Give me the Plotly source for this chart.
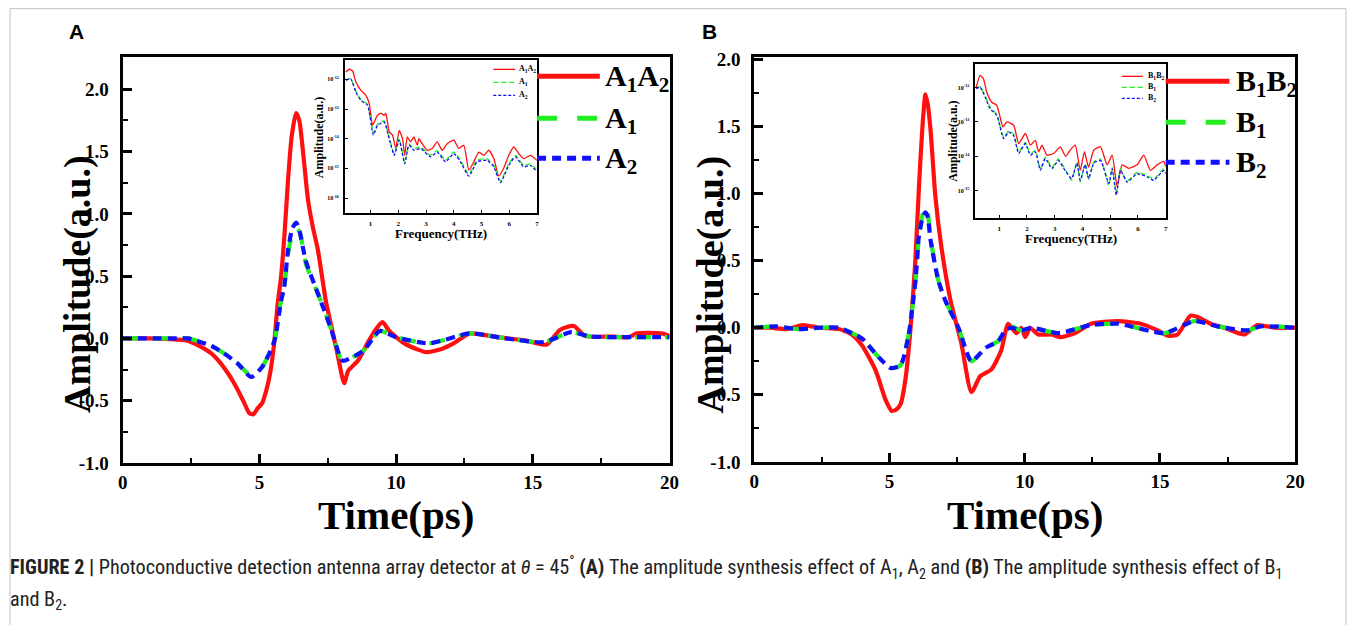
import plotly.graph_objects as go

# ---------------- data: panel A (time domain) ----------------
T_A_RED = [0, 1.0, 2.0, 2.4, 2.8, 3.24, 3.55, 3.85, 4.05, 4.27, 4.45, 4.63, 4.78, 4.94, 5.1, 5.25, 5.4, 5.54,
           5.67, 5.79, 5.92, 6.05, 6.18, 6.34, 6.46, 6.59, 6.78, 6.95, 7.14, 7.43, 7.6, 7.85, 8.1, 8.25, 8.6,
           9.0, 9.25, 9.5, 9.75, 10.3, 10.8, 11.1, 11.6, 12.1, 12.7, 13.7, 14.8, 15.5, 16.0, 16.5, 16.9, 17.9,
           18.5, 18.8, 19.7, 20.0]
V_A_RED = [0, 0, -0.01, -0.02, -0.06, -0.12, -0.19, -0.28, -0.35, -0.44, -0.52, -0.60, -0.61, -0.56, -0.52,
           -0.42, -0.27, -0.04, 0.28, 0.49, 0.84, 1.28, 1.62, 1.81, 1.75, 1.51, 1.11, 0.90, 0.71, 0.30, 0.13,
           -0.12, -0.36, -0.26, -0.18, -0.02, 0.07, 0.13, 0.06, -0.04, -0.09, -0.11, -0.09, -0.04, 0.04, 0.01,
           -0.02, -0.05, 0.07, 0.10, 0.02, 0.015, 0.01, 0.04, 0.04, 0.02]

T_A_GREEN = [0, 1.0, 2.0, 2.4, 3.24, 3.7, 4.2, 4.7, 5.1, 5.55, 5.79, 5.9, 6.05, 6.2, 6.36, 6.48, 6.7, 7.14,
             7.6, 7.95, 8.05, 8.8, 9.4, 10.0, 11.2, 12.7, 14.0, 15.4, 16.4, 17.1, 18.5, 20.0]
V_A_GREEN = [0, 0, 0, 0, -0.06, -0.12, -0.20, -0.30, -0.23, -0.02, 0.30, 0.40, 0.68, 0.84, 0.88, 0.85, 0.60,
             0.36, 0.09, -0.15, -0.18, -0.10, 0.06, 0.01, -0.04, 0.04, 0.0, -0.03, 0.05, 0.015, 0.01, 0.01]

T_A_BLUE = [0, 1.0, 2.0, 2.4, 3.24, 3.7, 4.2, 4.7, 5.1, 5.55, 5.79, 5.9, 6.05, 6.2, 6.34, 6.45, 6.7, 7.14,
            7.6, 7.95, 8.05, 8.8, 9.4, 10.0, 11.2, 12.7, 14.0, 15.4, 16.4, 17.1, 18.5, 20.0]
V_A_BLUE = [0, 0, 0, 0, -0.06, -0.12, -0.20, -0.31, -0.23, -0.02, 0.30, 0.40, 0.71, 0.88, 0.93, 0.88, 0.62,
            0.36, 0.09, -0.15, -0.18, -0.10, 0.06, 0.01, -0.04, 0.04, 0.0, -0.03, 0.05, 0.015, 0.01, 0.01]

# ---------------- data: panel B (time domain) ----------------
T_B_RED = [0, 0.6, 1.2, 1.8, 2.4, 3.13, 3.6, 3.98, 4.49, 4.86, 5.08, 5.25, 5.41, 5.6, 5.78, 5.95, 6.1, 6.22,
           6.33, 6.42, 6.52, 6.7, 6.92, 7.26, 7.66, 8.03, 8.36, 8.77, 9.13, 9.39, 9.69, 9.87, 10.02, 10.2,
           10.5, 10.98, 11.34, 11.86, 12.45, 13.44, 14.29, 14.92, 15.29, 15.65, 16.13, 16.39, 16.87, 17.38,
           18.12, 18.6, 19.23, 20.0]
V_B_RED = [0, 0.0, -0.01, 0.02, 0.0, -0.01, -0.05, -0.13, -0.32, -0.54, -0.62, -0.61, -0.57, -0.37, 0.0,
           0.48, 1.09, 1.50, 1.74, 1.66, 1.47, 0.97, 0.60, 0.20, -0.12, -0.48, -0.36, -0.31, -0.17, 0.03,
           -0.04, 0.0, -0.07, 0.0, -0.05, -0.05, -0.07, -0.04, 0.03, 0.05, 0.03, -0.02, -0.06, -0.05, 0.09,
           0.08, 0.03, 0.0, -0.05, 0.02, 0.0, 0.0]

T_B_GREEN = [0, 0.8, 1.6, 2.4, 3.13, 3.98, 4.6, 5.05, 5.41, 5.71, 5.97, 6.08, 6.22, 6.33, 6.42, 6.52, 6.81,
             7.07, 7.55, 8.03, 8.55, 9.02, 9.28, 9.5, 9.87, 10.24, 11.23, 12.45, 13.44, 15.17, 16.28, 17.13,
             18.23, 18.71, 20.0]
V_B_GREEN = [0, 0.01, -0.01, 0.0, 0.0, -0.08, -0.22, -0.30, -0.28, -0.05, 0.37, 0.66, 0.84, 0.90, 0.85, 0.66,
             0.35, 0.20, 0.0, -0.25, -0.15, -0.10, -0.02, 0.01, -0.02, 0.0, -0.04, 0.02, 0.03, -0.04, 0.05,
             0.01, -0.02, 0.01, 0.0]

T_B_BLUE = [0, 0.8, 1.6, 2.4, 3.13, 3.98, 4.6, 5.05, 5.41, 5.71, 5.97, 6.08, 6.22, 6.33, 6.42, 6.52, 6.81,
            7.07, 7.55, 8.03, 8.55, 9.02, 9.28, 9.5, 9.87, 10.24, 11.23, 12.45, 13.44, 15.17, 16.28, 17.13,
            18.23, 18.71, 20.0]
V_B_BLUE = [0, 0.01, -0.01, 0.0, 0.0, -0.08, -0.22, -0.30, -0.28, -0.05, 0.37, 0.67, 0.82, 0.86, 0.82, 0.65,
            0.35, 0.20, 0.0, -0.25, -0.15, -0.10, -0.02, 0.0, -0.02, 0.0, -0.04, 0.02, 0.03, -0.04, 0.05, 0.01,
            -0.02, 0.01, 0.0]

# ---------------- data: insets (frequency spectra, log10 amplitude) ----------------
F_A_RED = [0.11, 0.23, 0.35, 0.47, 0.65, 0.83, 0.95, 1.07, 1.13, 1.25, 1.37, 1.49, 1.55, 1.67, 1.79, 1.91, 2.03,
           2.15, 2.23, 2.32, 2.44, 2.56, 2.68, 2.74, 2.86, 3.04, 3.22, 3.40, 3.58, 3.76, 4.00, 4.18, 4.36, 4.54,
           4.72, 4.90, 5.08, 5.26, 5.44, 5.62, 5.80, 5.98, 6.16, 6.34, 6.52, 6.76, 7.0]
L_A_RED = [-11.75, -11.66, -11.72, -12.09, -12.37, -12.54, -12.82, -13.55, -13.44, -13.21, -13.15, -13.21,
           -13.15, -13.77, -13.88, -14.33, -13.72, -14.0, -14.56, -13.94, -14.11, -13.94, -14.22, -14.0, -14.17,
           -14.39, -14.33, -14.11, -14.39, -14.17, -14.05, -14.33, -14.22, -15.06, -14.78, -14.45, -14.56,
           -14.39, -14.67, -15.26, -14.99, -14.56, -14.28, -14.50, -14.67, -14.56, -14.73]

F_A_GREEN = [0.11, 0.28, 0.47, 0.65, 0.89, 1.10, 1.25, 1.49, 1.67, 1.85, 2.03, 2.23, 2.38, 2.56, 2.80, 3.16,
             3.40, 3.70, 4.00, 4.24, 4.54, 4.84, 5.20, 5.44, 5.68, 5.98, 6.22, 6.52, 6.76, 7.0]
L_A_GREEN = [-12.02, -11.97, -12.40, -12.68, -12.84, -13.80, -13.50, -13.40, -13.95, -14.50, -14.00, -14.80,
             -14.18, -14.33, -14.28, -14.55, -14.40, -14.72, -14.45, -14.72, -15.20, -14.72, -14.68, -14.90,
             -15.42, -14.85, -14.56, -14.90, -14.85, -15.05]

F_A_BLUE = [0.11, 0.28, 0.47, 0.65, 0.89, 1.10, 1.25, 1.49, 1.67, 1.85, 2.03, 2.23, 2.38, 2.56, 2.80, 3.16,
            3.40, 3.70, 4.00, 4.24, 4.54, 4.84, 5.20, 5.44, 5.68, 5.98, 6.22, 6.52, 6.76, 7.0]
L_A_BLUE = [-12.03, -11.98, -12.43, -12.71, -12.87, -13.88, -13.55, -13.44, -14.0, -14.56, -14.05, -14.84,
            -14.22, -14.39, -14.33, -14.61, -14.45, -14.78, -14.50, -14.78, -15.26, -14.78, -14.73, -14.95,
            -15.48, -14.90, -14.61, -14.95, -14.90, -15.12]

F_B_RED = [0.17, 0.31, 0.43, 0.55, 0.73, 0.91, 1.03, 1.13, 1.28, 1.52, 1.70, 1.94, 2.12, 2.30, 2.42, 2.54, 2.72,
           2.96, 3.20, 3.39, 3.56, 3.74, 3.92, 4.07, 4.22, 4.41, 4.65, 4.89, 5.07, 5.25, 5.43, 5.67, 5.97, 6.21,
           6.45, 6.69, 6.93, 7.0]
L_B_RED = [-11.99, -11.65, -11.75, -12.14, -12.43, -12.52, -12.86, -13.15, -13.0, -13.10, -13.63, -13.34,
           -13.68, -13.54, -13.87, -13.68, -13.97, -13.92, -13.73, -14.0, -13.82, -13.68, -14.41, -13.87,
           -14.32, -13.82, -13.73, -14.25, -13.97, -14.89, -14.25, -14.35, -14.25, -13.97, -14.41, -14.25,
           -14.15, -14.30]

F_B_GREEN = [0.17, 0.31, 0.49, 0.67, 0.91, 1.16, 1.34, 1.52, 1.70, 1.94, 2.12, 2.30, 2.48, 2.66, 2.90, 3.13,
             3.37, 3.61, 3.80, 3.92, 4.10, 4.22, 4.41, 4.65, 4.95, 5.07, 5.22, 5.37, 5.61, 5.97, 6.33, 6.57,
             6.93, 7.0]
L_B_GREEN = [-12.02, -11.97, -12.25, -12.58, -12.78, -13.45, -13.26, -13.36, -13.88, -13.60, -13.93, -13.83,
             -14.36, -14.03, -14.32, -14.08, -14.37, -14.70, -14.16, -14.75, -14.21, -14.68, -14.16, -14.08,
             -14.85, -14.32, -15.05, -14.37, -14.72, -14.47, -14.56, -14.66, -14.37, -14.47]

F_B_BLUE = [0.17, 0.31, 0.49, 0.67, 0.91, 1.16, 1.34, 1.52, 1.70, 1.94, 2.12, 2.30, 2.48, 2.66, 2.90, 3.13,
            3.37, 3.61, 3.80, 3.92, 4.10, 4.22, 4.41, 4.65, 4.95, 5.07, 5.22, 5.37, 5.61, 5.97, 6.33, 6.57,
            6.93, 7.0]
L_B_BLUE = [-12.04, -11.99, -12.28, -12.62, -12.81, -13.49, -13.30, -13.40, -13.92, -13.63, -13.97, -13.87,
            -14.41, -14.07, -14.36, -14.12, -14.41, -14.65, -14.20, -14.70, -14.25, -14.65, -14.20, -14.12,
            -14.79, -14.36, -15.13, -14.41, -14.75, -14.51, -14.60, -14.70, -14.41, -14.51]

# ---------------- tick labels ----------------
TIME_TICKS = [0, 5, 10, 15, 20]
TIME_TICKTEXT = ["0", "5", "10", "15", "20"]
AMP_TICKS = [-1.0, -0.5, 0.0, 0.5, 1.0, 1.5, 2.0]
AMP_TICKTEXT = ["-1.0", "-0.5", "0.0", "0.5", "1.0", "1.5", "2.0"]
FREQ_TICKS = [1, 2, 3, 4, 5, 6, 7]
FREQ_TICKTEXT = ["1", "2", "3", "4", "5", "6", "7"]
LOG_TICKS_A = [-12, -13, -14, -15, -16]
LOG_TICKTEXT_A = ["10<sup>-12</sup>", "10<sup>-13</sup>", "10<sup>-14</sup>", "10<sup>-15</sup>", "10<sup>-16</sup>"]
LOG_TICKS_B = [-12, -13, -14, -15]
LOG_TICKTEXT_B = ["10<sup>-12</sup>", "10<sup>-13</sup>", "10<sup>-14</sup>", "10<sup>-15</sup>"]

NAMES_A = ["A<sub>1</sub>A<sub>2</sub>", "A<sub>1</sub>", "A<sub>2</sub>"]
NAMES_B = ["B<sub>1</sub>B<sub>2</sub>", "B<sub>1</sub>", "B<sub>2</sub>"]

# ---------------- styling ----------------
W, H = 1356, 625
# the captured picture is slightly shrunk/offset relative to the page; place items in picture pixels
SX, OX = 0.9927, 2.9
SY, OY = 0.9706, 7.6
RED, GREEN, BLUE = "#ff1010", "#22ee22", "#1010ff"
SERIF = "Liberation Serif, Times New Roman, serif"
SANS = "Liberation Sans, Arial, sans-serif"


def px(x):
    return ((x - OX) / SX) / W


def py(y):
    return 1 - ((y - OY) / SY) / H


fig = go.Figure()

main_styles = [(RED, "solid", 4.2), (GREEN, "16px,14px", 4.2), (BLUE, "9px,6px", 4.2)]
legend_dash = ["solid", "20px,20px", "9px,6px"]
ins_styles = [(RED, "solid", 1.3), (GREEN, "5px,3px", 1.3), (BLUE, "3px,2px", 1.3)]

for (tx, vy), (c, d, w) in zip([(T_A_RED, V_A_RED), (T_A_GREEN, V_A_GREEN), (T_A_BLUE, V_A_BLUE)], main_styles):
    fig.add_trace(go.Scatter(x=tx, y=vy, mode="lines", line=dict(color=c, dash=d, width=w, shape="spline",
                                                                  smoothing=0.6),
                             xaxis="x", yaxis="y", showlegend=False))
for (tx, vy), (c, d, w) in zip([(T_B_RED, V_B_RED), (T_B_GREEN, V_B_GREEN), (T_B_BLUE, V_B_BLUE)], main_styles):
    fig.add_trace(go.Scatter(x=tx, y=vy, mode="lines", line=dict(color=c, dash=d, width=w, shape="spline",
                                                                  smoothing=0.6),
                             xaxis="x2", yaxis="y2", showlegend=False))
for (fx, ly), (c, d, w) in zip([(F_A_RED, L_A_RED), (F_A_GREEN, L_A_GREEN), (F_A_BLUE, L_A_BLUE)], ins_styles):
    fig.add_trace(go.Scatter(x=fx, y=ly, mode="lines", line=dict(color=c, dash=d, width=w, shape="spline",
                                                                  smoothing=0.5),
                             xaxis="x3", yaxis="y3", showlegend=False))
for (fx, ly), (c, d, w) in zip([(F_B_RED, L_B_RED), (F_B_GREEN, L_B_GREEN), (F_B_BLUE, L_B_BLUE)], ins_styles):
    fig.add_trace(go.Scatter(x=fx, y=ly, mode="lines", line=dict(color=c, dash=d, width=w, shape="spline",
                                                                  smoothing=0.5),
                             xaxis="x4", yaxis="y4", showlegend=False))

tickfont_main = dict(family=SERIF, size=19, color="black", weight="bold")
tickfont_in = dict(family=SERIF, size=7, color="black", weight="bold")

main_axis = dict(showline=True, linewidth=3, linecolor="black", mirror=True, showgrid=False, zeroline=False,
                 ticks="inside", ticklen=9, tickwidth=2.5, tickcolor="black", tickfont=tickfont_main,
                 tickmode="array")
in_axis = dict(showline=True, linewidth=1.5, linecolor="black", mirror=True, showgrid=False, zeroline=False,
               ticks="inside", ticklen=3, tickwidth=1, tickcolor="black", tickfont=tickfont_in,
               tickmode="array", ticklabelstandoff=3)
minor_x = dict(ticks="inside", ticklen=5, tickwidth=2, tickcolor="black", dtick=2.5, tick0=0)
minor_y = dict(ticks="inside", ticklen=5, tickwidth=2, tickcolor="black", dtick=0.25, tick0=0)

fig.update_layout(
    width=W, height=H, margin=dict(l=0, r=0, t=0, b=0),
    paper_bgcolor="white", plot_bgcolor="white",
    xaxis=dict(main_axis, domain=[px(121), px(670)], range=[0, 20], tickvals=TIME_TICKS, ticktext=TIME_TICKTEXT,
               minor=minor_x, ticklabelstandoff=0, anchor="y"),
    yaxis=dict(main_axis, domain=[py(463), py(57)], range=[-1.0, 2.257], tickvals=AMP_TICKS, ticktext=AMP_TICKTEXT,
               minor=minor_y, ticklabelstandoff=7, anchor="x"),
    xaxis2=dict(main_axis, domain=[px(755), px(1298)], range=[0, 20], tickvals=TIME_TICKS, ticktext=TIME_TICKTEXT,
                minor=minor_x, ticklabelstandoff=0, anchor="y2"),
    yaxis2=dict(main_axis, domain=[py(462), py(57)], range=[-1.0, 2.015], tickvals=AMP_TICKS, ticktext=AMP_TICKTEXT,
                minor=minor_y, ticklabelstandoff=7, anchor="x2"),
    xaxis3=dict(in_axis, domain=[px(344), px(537)], range=[0.07, 7], tickvals=FREQ_TICKS, ticktext=FREQ_TICKTEXT,
                anchor="y3"),
    yaxis3=dict(in_axis, domain=[py(213), py(60)], range=[-16.51, -11.36], tickvals=LOG_TICKS_A,
                ticktext=LOG_TICKTEXT_A, tickfont=dict(family=SERIF, size=6, color="black", weight="bold"),
                anchor="x3"),
    xaxis4=dict(in_axis, domain=[px(977), px(1168)], range=[0.14, 7], tickvals=FREQ_TICKS, ticktext=FREQ_TICKTEXT,
                anchor="y4"),
    yaxis4=dict(in_axis, domain=[py(218), py(64)], range=[-15.80, -11.33], tickvals=LOG_TICKS_B,
                ticktext=LOG_TICKTEXT_B, tickfont=dict(family=SERIF, size=6, color="black", weight="bold"),
                anchor="x4"),
)

ann = []
shapes = []


def text(x, y, s, size, family=SERIF, xanchor="center", angle=0, bold=True, color="black"):
    ann.append(dict(x=px(x), y=py(y), xref="paper", yref="paper", text=s, showarrow=False, xanchor=xanchor,
                    yanchor="middle", textangle=angle,
                    font=dict(family=family, size=size, color=color, weight="bold" if bold else "normal")))


# panel letters
text(75, 31, "A", 21, family=SANS)
text(710, 31, "B", 21, family=SANS)

# axis titles
text(75, 284, "Amplitude(a.u.)", 38, angle=-90)
text(711, 284, "Amplitude(a.u.)", 38, angle=-90)
text(395, 515, "Time(ps)", 41)
text(1027, 515, "Time(ps)", 41)

# inset titles
text(441, 233, "Frequency(THz)", 13)
text(1073, 238, "Frequency(THz)", 13)
text(318, 137, "Amplitude(a.u.)", 12, angle=-90)
text(955, 141, "Amplitude(a.u.)", 12, angle=-90)

# main legends
for (x0, x1, lx, ys, names) in [(537, 600, 603, [76, 118, 158], NAMES_A),
                                (1168, 1232, 1237, [81, 122, 162], NAMES_B)]:
    for (c, d, w), ld, yy, nm in zip(main_styles, legend_dash, ys, names):
        shapes.append(dict(type="line", xref="paper", yref="paper", x0=px(x0), x1=px(x1), y0=py(yy), y1=py(yy),
                           line=dict(color=c, width=5, dash=ld)))
        text(lx, yy + 2, nm, 30, xanchor="left")

# inset legends
for (x0, x1, lx, ys, names) in [(493, 515, 517, [69, 82, 95], NAMES_A),
                                (1124, 1145, 1148, [76, 87, 98], NAMES_B)]:
    for (c, d, w), yy, nm in zip(ins_styles, ys, names):
        shapes.append(dict(type="line", xref="paper", yref="paper", x0=px(x0), x1=px(x1), y0=py(yy), y1=py(yy),
                           line=dict(color=c, width=1.3, dash=d)))
        text(lx, yy, nm, 8, xanchor="left")

# caption
CAP_FONT = "Liberation Sans Narrow, Arial Narrow, Roboto Condensed, Liberation Sans, sans-serif"
ann.append(dict(x=px(6), y=py(568), xref="paper", yref="paper", showarrow=False, xanchor="left", yanchor="middle",
                text="<b>FIGURE 2 |</b> Photoconductive detection antenna array detector at <i>θ</i> = 45<sup>°</sup> "
                     "<b>(A)</b> The amplitude synthesis effect of A<sub>1</sub>, A<sub>2</sub> and <b>(B)</b> "
                     "The amplitude synthesis effect of B<sub>1</sub>",
                font=dict(family=CAP_FONT, size=20.2, color="#222222")))
ann.append(dict(x=px(6), y=py(600), xref="paper", yref="paper", showarrow=False, xanchor="left", yanchor="middle",
                text="and B<sub>2</sub>.", font=dict(family=CAP_FONT, size=20.2, color="#222222")))

# outer frame
shapes.append(dict(type="rect", xref="paper", yref="paper", x0=px(8), x1=px(1349), y0=-0.05, y1=0.999,
                   line=dict(color="#c4c4c4", width=1), layer="below"))

fig.update_layout(annotations=ann, shapes=shapes)
fig.write_html("out.html", config={"displayModeBar": False},
               post_script="document.body.style.margin='0';document.body.style.overflow='hidden';")
